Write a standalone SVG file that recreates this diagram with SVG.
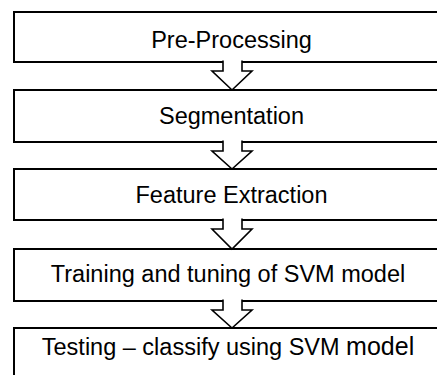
<svg xmlns="http://www.w3.org/2000/svg" width="437" height="375" viewBox="0 0 437 375">
<style>
.box{fill:#fff;stroke:#000;stroke-width:2}
.arr{fill:#fff;stroke:#000;stroke-width:1.6;stroke-linejoin:miter}
.lbl{font-family:"Liberation Sans",Arial,sans-serif;font-size:23.5px;fill:#000;text-anchor:middle}
</style>
<rect width="437" height="375" fill="#fff"/>
<g id="n1"><rect class="box" x="14" y="12" width="440" height="50"/><text class="lbl" x="231.5" y="48">Pre-Processing</text></g>
<g id="n2"><rect class="box" x="14" y="90" width="440" height="52"/><text class="lbl" x="231.5" y="124">Segmentation</text></g>
<g id="n3"><rect class="box" x="14" y="169" width="440" height="51"/><text class="lbl" x="231.5" y="203">Feature Extraction</text></g>
<g id="n4"><rect class="box" x="14" y="249" width="440" height="52"/><text class="lbl" x="228" y="282">Training and tuning of SVM model</text></g>
<g id="n5"><rect class="box" x="14" y="328" width="440" height="60"/><text class="lbl" x="228" y="355">Testing – classify using SVM <tspan font-size="25px">model</tspan></text></g>
<g id="connectors">
<path class="arr" d="M223,60.5 V71 H212 L232,90 L252,71 H242 V60.5"/>
<path class="arr" d="M223,140.5 V151 H212 L232,169 L252,151 H242 V140.5"/>
<path class="arr" d="M223,218.5 V229 H212 L232,249 L252,229 H242 V218.5"/>
<path class="arr" d="M223,299.5 V310 H212 L232,328 L252,310 H242 V299.5"/>
</g>
</svg>
